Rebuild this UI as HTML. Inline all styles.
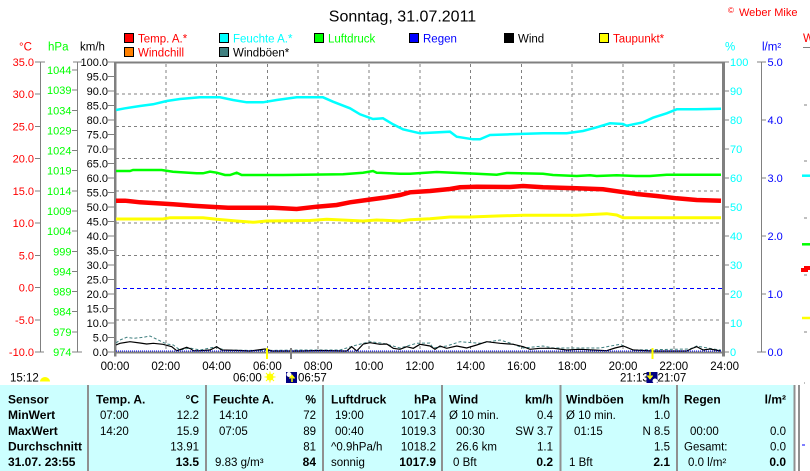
<!DOCTYPE html>
<html><head><meta charset="utf-8"><style>
html,body{margin:0;padding:0;background:#fff;width:810px;height:471px;overflow:hidden}
svg{display:block;font-family:"Liberation Sans",Arial,sans-serif}
</style></head><body>
<svg width="810" height="471" viewBox="0 0 810 471" xmlns="http://www.w3.org/2000/svg">
<rect width="810" height="471" fill="#fff"/>
<text x="402.5" y="21.5" font-size="16" text-anchor="middle">Sonntag, 31.07.2011</text>
<text x="728" y="13" font-size="8" fill="#f00">©</text>
<text x="739" y="16" font-size="11" fill="#f00">Weber Mike</text>

<!-- legend -->
<g font-size="11.5">
<rect x="124.5" y="33.5" width="9" height="9" fill="#f00" stroke="#000"/><text x="138" y="42.5" fill="#f00">Temp. A.*</text>
<rect x="219.5" y="33.5" width="9" height="9" fill="#0ff" stroke="#000"/><text x="233" y="42.5" fill="#0ff">Feuchte A.*</text>
<rect x="314.5" y="33.5" width="9" height="9" fill="#0f0" stroke="#000"/><text x="328" y="42.5" fill="#0f0">Luftdruck</text>
<rect x="409.5" y="33.5" width="9" height="9" fill="#00f" stroke="#000"/><text x="423" y="42.5" fill="#00f">Regen</text>
<rect x="504.5" y="33.5" width="9" height="9" fill="#000" stroke="#000"/><text x="518" y="42.5" fill="#000">Wind</text>
<rect x="599.5" y="33.5" width="9" height="9" fill="#ff0" stroke="#000"/><text x="613" y="42.5" fill="#f00">Taupunkt*</text>
<rect x="124.5" y="47.5" width="9" height="9" fill="#ff8000" stroke="#000"/><text x="138" y="56.5" fill="#f00">Windchill</text>
<rect x="219.5" y="47.5" width="9" height="9" fill="#408080" stroke="#000"/><text x="233" y="56.5" fill="#000">Windböen*</text>
<text x="19" y="50.5" fill="#f00">°C</text>
<text x="48" y="50.5" fill="#0f0">hPa</text>
<text x="80" y="50.5" fill="#000">km/h</text>
<text x="725" y="50.5" fill="#0ff">%</text>
<text x="762" y="50.5" fill="#00f">l/m²</text>
<text x="803" y="42" fill="#f00">W</text>
</g>
<line x1="803" y1="47.5" x2="810" y2="47.5" stroke="#808080"/>

<!-- left axes -->
<g stroke="#808080" stroke-width="1" fill="none" shape-rendering="crispEdges">
<line x1="40.5" y1="62" x2="40.5" y2="352"/>
<path d="M35 62H45M35 94.2H40.5M35 126.4H40.5M35 158.7H40.5M35 190.9H40.5M35 223.1H40.5M35 255.3H40.5M35 287.6H40.5M35 319.8H40.5M35 352H44"/>
<line x1="77.5" y1="62" x2="77.5" y2="352"/>
<path d="M73 62H82M72 70H78M72 90.1H78M72 110.3H78M72 130.4H78M72 150.6H78M72 170.7H78M72 190.8H78M72 211H78M72 231.1H78M72 251.3H78M72 271.4H78M72 291.5H78M72 311.7H78M72 331.8H78M72 352H82"/>
<path d="M108 62H114M108 76.5H114M108 91H114M108 105.5H114M108 120H114M108 134.5H114M108 149H114M108 163.5H114M108 178H114M108 192.5H114M108 207H114M108 221.5H114M108 236H114M108 250.5H114M108 265H114M108 279.5H114M108 294H114M108 308.5H114M108 323H114M108 337.5H114M108 352H114"/>
<path d="M725 62H729M725 91H729M725 120H729M725 149H729M725 178H729M725 207H729M725 236H729M725 265H729M725 294H729M725 323H729M725 352H729"/>
<line x1="761.5" y1="62" x2="761.5" y2="352"/>
<path d="M757 62H766M761 120H766M761 178H766M761 236H766M761 294H766M757 352H766"/>
<path d="M804 105H807M804 161H807M804 218H807M804 275H807M804 332H807M804 383H805"/>
</g>

<g font-size="11" text-anchor="end" fill="#f00">
<text x="34" y="66">35.0</text><text x="34" y="98.2">30.0</text><text x="34" y="130.4">25.0</text><text x="34" y="162.7">20.0</text><text x="34" y="194.9">15.0</text><text x="34" y="227.1">10.0</text><text x="34" y="259.3">5.0</text><text x="34" y="291.6">0.0</text><text x="34" y="323.8">-5.0</text><text x="34" y="356">-10.0</text>
</g>
<g font-size="11" text-anchor="end" fill="#0f0">
<text x="71.5" y="74">1044</text><text x="71.5" y="94.1">1039</text><text x="71.5" y="114.3">1034</text><text x="71.5" y="134.4">1029</text><text x="71.5" y="154.6">1024</text><text x="71.5" y="174.7">1019</text><text x="71.5" y="194.8">1014</text><text x="71.5" y="215">1009</text><text x="71.5" y="235.1">1004</text><text x="71.5" y="255.3">999</text><text x="71.5" y="275.4">994</text><text x="71.5" y="295.5">989</text><text x="71.5" y="315.7">984</text><text x="71.5" y="335.8">979</text><text x="71.5" y="356">974</text>
</g>
<g font-size="11" text-anchor="end" fill="#000">
<text x="108" y="66">100.0</text><text x="108" y="80.5">95.0</text><text x="108" y="95">90.0</text><text x="108" y="109.5">85.0</text><text x="108" y="124">80.0</text><text x="108" y="138.5">75.0</text><text x="108" y="153">70.0</text><text x="108" y="167.5">65.0</text><text x="108" y="182">60.0</text><text x="108" y="196.5">55.0</text><text x="108" y="211">50.0</text><text x="108" y="225.5">45.0</text><text x="108" y="240">40.0</text><text x="108" y="254.5">35.0</text><text x="108" y="269">30.0</text><text x="108" y="283.5">25.0</text><text x="108" y="298">20.0</text><text x="108" y="312.5">15.0</text><text x="108" y="327">10.0</text><text x="108" y="341.5">5.0</text><text x="108" y="356">0.0</text>
</g>
<g font-size="11" fill="#0ff">
<text x="730" y="66">100</text><text x="730" y="95">90</text><text x="730" y="124">80</text><text x="730" y="153">70</text><text x="730" y="182">60</text><text x="730" y="211">50</text><text x="730" y="240">40</text><text x="730" y="269">30</text><text x="730" y="298">20</text><text x="730" y="327">10</text><text x="730" y="356">0</text>
</g>
<g font-size="11" fill="#00f">
<text x="767.5" y="66">5.0</text><text x="767.5" y="124">4.0</text><text x="767.5" y="182">3.0</text><text x="767.5" y="240">2.0</text><text x="767.5" y="298">1.0</text><text x="767.5" y="356">0.0</text>
</g>

<!-- grid -->
<g stroke="#808080" stroke-width="1" stroke-dasharray="3 3" fill="none" shape-rendering="crispEdges">
<path d="M116 94.2H722M116 126.4H722M116 158.7H722M116 190.9H722M116 223.1H722M116 255.3H722M116 319.8H722"/>
<path d="M165.8 64V351M216.6 64V351M267.4 64V351M318.2 64V351M369 64V351M419.8 64V351M470.6 64V351M521.4 64V351M572.2 64V351M623 64V351M673.8 64V351"/>
</g>
<line x1="116" y1="288.5" x2="722" y2="288.5" stroke="#0000ff" stroke-width="1" stroke-dasharray="4 3"/>

<!-- frame -->
<rect x="114" y="61.5" width="611" height="2" fill="#808080"/>
<rect x="114" y="61.5" width="2.5" height="295" fill="#808080"/>
<rect x="722" y="61.5" width="3" height="295" fill="#808080"/>
<rect x="114" y="351.5" width="611" height="2" fill="#808080"/>

<!-- series -->
<polyline fill="none" stroke="#0ff" stroke-width="2.5" points="116,110 125,108.3 140,106 153,104.3 166.7,101 180,99 200,97.3 220,97.3 233,100 246.7,102.3 263,102.3 276.7,100 296.7,97.3 323,97.3 333,101.7 350,108.3 360,114.3 373,119 383,118.3 393,124.3 403,129.3 420,133.3 450,131.7 456.7,136.7 473,139.3 480,139.3 490,135 510,134.3 543,133.3 566.7,133.3 583,131 596.7,127.3 610,123.3 623,124 626.7,125.7 643,122.3 653,117.7 666.7,113.3 676.7,109.3 696.7,109.3 721,108.8"/>
<polyline fill="none" stroke="#0f0" stroke-width="2.5" points="116,171 130,171 133,170 161.7,170 173,171.7 196.7,173.3 203,173.3 210,171.7 216.7,172.7 225,175 230,175 236.7,172.7 241.7,175 283,175 343,174.3 363,172.7 373,171 376.7,172.7 400,173.7 410,173.7 436.7,172 453,172.7 476.7,173.7 496.7,174.7 506.7,173 543,173.7 553,175 576.7,176 590,175.3 596.7,176 616.7,175.3 636.7,176 650,176 666.7,174.7 721,174.7"/>
<polyline fill="none" stroke="#f00" stroke-width="4.5" points="116,200.7 125,200.7 140,202.3 156.7,203.3 173,204.3 193,205.7 210,206.7 228,207.7 273,207.7 296.7,209 316.7,206.7 336.7,205 350,202.3 366.7,200 386.7,197.3 400,195 410,192.3 430,191 450,189 460,187.3 476.7,186.7 510,187 523,186 543,187.3 576.7,188.3 603,189.3 620,191.7 636.7,194 656.7,196 676.7,198.3 696.7,200 721,200.7"/>
<polyline fill="none" stroke="#ff0" stroke-width="3" points="116,219 163,219 170,217.7 203,217.7 216.7,219.3 236.7,221 253,222.3 266.7,221 310,220.5 326.7,219.3 363,221 376.7,220 400,221 410,219.7 430,218.7 450,217 470,217 496.7,216 523,215.3 576.7,215.3 606.7,213.7 616.7,215 623,217.7 721,217.7"/>
<polyline fill="none" stroke="#408080" stroke-width="1" stroke-dasharray="3 2" points="116,343 120,340 126.7,337.3 133.3,338.3 143.3,337.3 150,336 158.3,340 166.7,344 173.3,345 180,350 190,348 200,350 215,347 225,350 260,350.5 300,350 340,350 346.7,348 356.7,345 370,341.7 383.3,343.3 400,348 416.7,343.3 430,343 433,348 446.7,346 460,341.7 480,343.3 500,340 510,343 523.3,348 543,346 553,348 600,348 620,344.3 633,350 690,349 696.7,346 713,349 721,350"/>
<polyline fill="none" stroke="#000" stroke-width="1.2" points="116,345 120,343.3 130,341.7 140,343 146.7,344 153.3,343.3 163,344.3 171.7,346.7 176.7,350.7 182,349 186.7,347.3 191,349 193.3,350.7 200,350.7 210,350 216.7,346.7 221.7,350 240,350.5 250,351 265,349 272,351 300,351 320,350.5 346.7,351 351.7,346.7 356.7,351 363.3,344 370,342.7 380,344.3 386.7,344 393.3,348.3 400,349.3 406.7,346.7 413.3,348.3 420,344.3 430,346 435,349.3 440,346 446.7,348.3 456.7,346 466.7,348 476.7,345 486.7,341.7 500,343.3 513.3,344.3 523.3,346.7 530,349.3 540,348.3 553.3,348.3 566.7,350 580,349.3 593.3,350 606.7,350.7 615,348 623.3,346 633.3,350 653.3,351 686.7,351 692,348.5 696.7,346.7 703.3,350 710,349 721,351"/>
<line x1="116" y1="351" x2="722" y2="351" stroke="#00f" stroke-width="1" stroke-dasharray="1 1"/>

<!-- markers -->
<rect x="266" y="348" width="2" height="11" fill="#ff0"/>
<rect x="290" y="348" width="2" height="11" fill="#808080"/>
<rect x="651.5" y="348" width="2" height="11" fill="#ff0"/>

<!-- far right partial -->
<line x1="802" y1="175.7" x2="810" y2="175.7" stroke="#0ff" stroke-width="2.5"/>
<line x1="802" y1="244.3" x2="810" y2="244.3" stroke="#0f0" stroke-width="2.5"/>
<path d="M801 270H806V268H810" stroke="#f00" stroke-width="4" fill="none"/>
<line x1="802" y1="318" x2="810" y2="318" stroke="#ff0" stroke-width="2.5"/>

<!-- x labels -->
<g font-size="11.5" text-anchor="middle">
<text x="115" y="370">00:00</text><text x="165.8" y="370">02:00</text><text x="216.6" y="370">04:00</text><text x="267.4" y="370">06:00</text><text x="318.2" y="370">08:00</text><text x="369" y="370">10:00</text><text x="419.8" y="370">12:00</text><text x="470.6" y="370">14:00</text><text x="521.4" y="370">16:00</text><text x="572.2" y="370">18:00</text><text x="623" y="370">20:00</text><text x="673.8" y="370">22:00</text><text x="724.6" y="370">24:00</text>
</g>
<g font-size="11.5">
<text x="10" y="381.5">15:12</text>
<text x="233" y="381.5">06:00</text>
<text x="298" y="381.5">06:57</text>
<text x="620" y="381.5">21:13</text>
<text x="657.5" y="381.5">21:07</text>
</g>
<path d="M40 381.5A5 4.5 0 0 1 50 381.5Z" fill="#ff0"/>
<circle cx="270" cy="377" r="3.5" fill="#ff0"/>
<path d="M270 371.5V382.5M264.5 377H275.5M266 373L274 381M274 373L266 381" stroke="#ff0" stroke-width="1"/>
<rect x="286" y="372" width="11" height="11" fill="#000080"/>
<circle cx="289" cy="374.5" r="2.5" fill="#fff"/>
<path d="M292 382V376M289.5 378.5L292 375.5L294.5 378.5" stroke="#ff0" stroke-width="1.5" fill="none"/>
<rect x="646.5" y="372" width="11" height="11" fill="#000080"/>
<path d="M650 372V378M647.5 375.5L650 378.5L652.5 375.5" stroke="#ff0" stroke-width="1.5" fill="none"/>
<circle cx="655" cy="381" r="2.5" fill="#fff"/>

<!-- table -->
<rect x="0" y="385" width="794" height="86" fill="#ccffff"/>
<g fill="#909090">
<rect x="87" y="385" width="2" height="86"/>
<rect x="205" y="385" width="2" height="86"/>
<rect x="322" y="385" width="2" height="86"/>
<rect x="441" y="385" width="2" height="86"/>
<rect x="559.5" y="385" width="2" height="86"/>
<rect x="676" y="385" width="2" height="86"/>
<rect x="793.5" y="385" width="2" height="86"/>
<rect x="798" y="385" width="2" height="86"/>
</g>
<line x1="802" y1="445" x2="805" y2="445" stroke="#00f"/>
<g font-size="12" font-weight="bold">
<text x="8" y="403.5">Sensor</text>
<text x="8" y="419">MinWert</text>
<text x="8" y="435">MaxWert</text>
<text x="8" y="450.5">Durchschnitt</text>
<text x="8" y="466">31.07. 23:55</text>
<text x="96" y="403.5">Temp. A.</text>
<text x="213" y="403.5">Feuchte A.</text>
<text x="331" y="403.5">Luftdruck</text>
<text x="449" y="403.5">Wind</text>
<text x="566" y="403.5">Windböen</text>
<text x="684" y="403.5">Regen</text>
<g text-anchor="end">
<text x="199" y="403.5">°C</text>
<text x="316" y="403.5">%</text>
<text x="436" y="403.5">hPa</text>
<text x="553" y="403.5">km/h</text>
<text x="670" y="403.5">km/h</text>
<text x="786" y="403.5">l/m²</text>
<text x="199" y="466">13.5</text>
<text x="316" y="466">84</text>
<text x="436" y="466">1017.9</text>
<text x="553" y="466">0.2</text>
<text x="670" y="466">2.1</text>
<text x="786" y="466">0.0</text>
</g>
</g>
<g font-size="11.5">
<text x="100" y="419">07:00</text>
<text x="100" y="435">14:20</text>
<text x="219" y="419">14:10</text>
<text x="219" y="435">07:05</text>
<text x="215" y="466">9.83 g/m³</text>
<text x="335" y="419">19:00</text>
<text x="335" y="435">00:40</text>
<text x="331" y="450.5">^0.9hPa/h</text>
<text x="331" y="466">sonnig</text>
<text x="449" y="419">Ø 10 min.</text>
<text x="456" y="435">00:30</text>
<text x="456" y="450.5">26.6 km</text>
<text x="453" y="466">0 Bft</text>
<text x="566" y="419">Ø 10 min.</text>
<text x="574" y="435">01:15</text>
<text x="569" y="466">1 Bft</text>
<text x="690" y="435">00:00</text>
<text x="684" y="450.5">Gesamt:</text>
<text x="688" y="466">0.0 l/m²</text>
<g text-anchor="end">
<text x="199" y="419">12.2</text>
<text x="199" y="435">15.9</text>
<text x="199" y="450.5">13.91</text>
<text x="316" y="419">72</text>
<text x="316" y="435">89</text>
<text x="316" y="450.5">81</text>
<text x="436" y="419">1017.4</text>
<text x="436" y="435">1019.3</text>
<text x="436" y="450.5">1018.2</text>
<text x="553" y="419">0.4</text>
<text x="553" y="435">SW 3.7</text>
<text x="553" y="450.5">1.1</text>
<text x="670" y="419">1.0</text>
<text x="670" y="435">N 8.5</text>
<text x="670" y="450.5">1.5</text>
<text x="786" y="435">0.0</text>
<text x="786" y="450.5">0.0</text>
</g>
</g>
</svg>
</body></html>
